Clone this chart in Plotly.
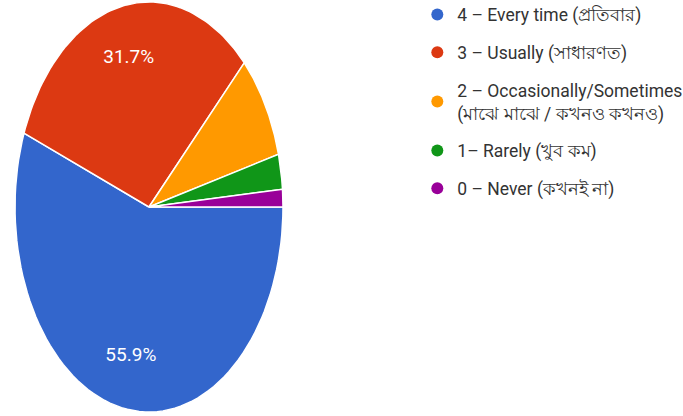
import numpy as np
import plotly.graph_objects as go

# responses per answer (share of 145 replies)
labels = [
    "4 – Every time (প্রতিবার)",
    "3 – Usually (সাধারণত)",
    "2 – Occasionally/Sometimes<br>(মাঝে মাঝে / কখনও কখনও)",
    "1– Rarely (খুব কম)",
    "0 – Never (কখনই না)",
]
counts = [81, 46, 12, 4, 2]
colors = ["#3366cc", "#dc3912", "#ff9900", "#109618", "#990099"]

FONT = "Roboto, Noto Sans, sans-serif"

vals = np.array(counts, dtype=float)
frac = vals / vals.sum()
edges = np.concatenate([[0], np.cumsum(frac)])

fig = go.Figure()

# slices: clockwise from 3 o'clock, drawn on stretched axes (oval pie)
for i, lab in enumerate(labels):
    th = -2 * np.pi * np.linspace(edges[i], edges[i + 1], 80)
    xs = np.concatenate([[0], np.cos(th), [0]])
    ys = np.concatenate([[0], np.sin(th), [0]])
    fig.add_trace(go.Scatter(
        x=xs, y=ys, mode="lines", fill="toself", fillcolor=colors[i],
        line=dict(color="white", width=1.5), hoverinfo="text",
        text=f"{lab.replace('<br>', ' ')}: {counts[i]} ({frac[i]:.1%})",
        showlegend=False))

# percentage labels on the bigger slices
mid = -2 * np.pi * (edges[:-1] + frac / 2)
fig.add_trace(go.Scatter(
    x=0.74 * np.cos(mid), y=0.74 * np.sin(mid), mode="text",
    text=[f"{f * 100:.1f}%" if f > 0.1 else "" for f in frac],
    textfont=dict(family=FONT, size=19, color="white"),
    hoverinfo="skip", showlegend=False))

# legend entries
for i, lab in enumerate(labels):
    fig.add_trace(go.Scatter(
        x=[None], y=[None], mode="markers", name=lab, legendgroup=str(i),
        marker=dict(color=colors[i], size=14, symbol="circle")))

fig.update_layout(
    width=683, height=416,
    margin=dict(l=0, r=0, t=0, b=0, autoexpand=False),
    paper_bgcolor="white", plot_bgcolor="white",
    font=dict(family=FONT, color="#333333"),
    xaxis=dict(visible=False, range=[-149 / 134, 534 / 134], fixedrange=True),
    yaxis=dict(visible=False, range=[-209 / 205, 207 / 205], fixedrange=True),
    legend=dict(x=0.611, y=1.008, xanchor="left", yanchor="top",
                font=dict(size=17.5, color="#333333"), tracegroupgap=12,
                itemsizing="constant", bgcolor="rgba(0,0,0,0)"),
    showlegend=True,
)

# drop the page's default body margin so the figure fills the window
fig.write_html("out.html", config={"displayModeBar": False},
               post_script="document.body.style.margin='0';")
